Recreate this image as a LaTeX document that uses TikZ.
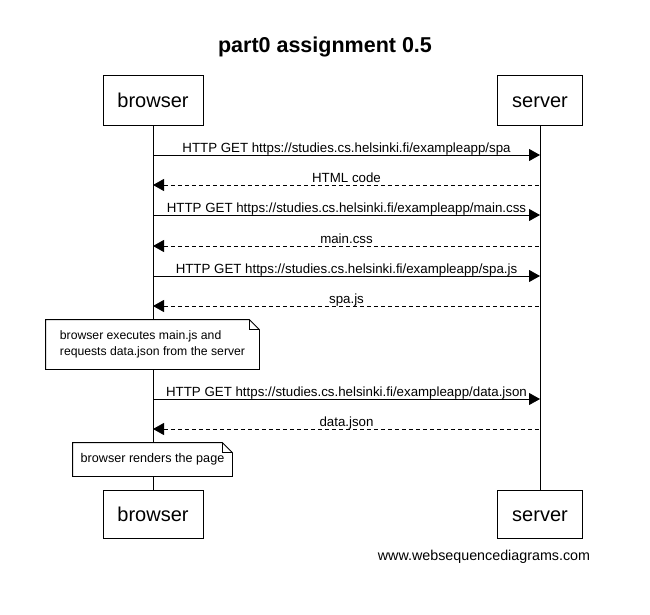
\documentclass[tikz,border=0pt]{standalone}
\usepackage{fontspec}
\setmainfont{Liberation Sans}
\usetikzlibrary{arrows.meta, positioning}

\tikzset{
  actor/.style={draw, fill=white, minimum height=50pt, inner sep=0pt, text height=16pt, text depth=2pt,
    font=\fontsize{20}{24}\selectfont},
  msg/.style={anchor=base, yshift=3pt, inner sep=0pt, font=\fontsize{13.3}{15}\selectfont},
  call/.style={-{Triangle[length=11pt,width=12pt]}},
  reply/.style={{Triangle[length=11pt,width=12pt]}-, dash pattern=on 4pt off 3pt},
  notebox/.style={fill=white, inner sep=0pt, align=left}
}

\begin{document}
\begin{tikzpicture}[x=1pt, y=-1pt, line width=0.8pt]
    % Page
    \fill[white] (0,0) rectangle (650,615);
    \useasboundingbox (0,0) rectangle (650,615);

    % Title
    \node[font=\bfseries\fontsize{21.5}{25}\selectfont] (title) at (325,47) {part0 assignment 0.5};

    % Participants
    \node[actor, minimum width=100pt] (browser) at (153,100) {browser};
    \node[actor, minimum width=85pt] (server) at (540,100) {server};
    \node[actor, minimum width=100pt, minimum height=48pt] (browserEnd) at (153,514) {browser};
    \node[actor, minimum width=85pt, minimum height=48pt] (serverEnd) at (540,514) {server};

    % Lifelines
    \draw (browser.south) -- (browserEnd.north);
    \draw (server.south) -- (serverEnd.north);

    % Message ends on the lifelines
    \foreach \n/\y in {1/155, 2/185, 3/215, 4/246, 5/276, 6/306, 7/399, 8/429} {
        \coordinate (b\n) at (153,\y);
        \coordinate (s\n) at (540,\y);
    }

    % Messages
    \draw[call] (b1) -- node[msg] {HTTP GET https://studies.cs.helsinki.fi/exampleapp/spa} (s1);
    \draw[reply] (b2) -- node[msg] {HTML code} (s2);
    \draw[call] (b3) -- node[msg] {HTTP GET https://studies.cs.helsinki.fi/exampleapp/main.css} (s3);
    \draw[reply] (b4) -- node[msg] {main.css} (s4);
    \draw[call] (b5) -- node[msg] {HTTP GET https://studies.cs.helsinki.fi/exampleapp/spa.js} (s5);
    \draw[reply] (b6) -- node[msg] {spa.js} (s6);
    \draw[call] (b7) -- node[msg] {HTTP GET https://studies.cs.helsinki.fi/exampleapp/data.json} (s7);
    \draw[reply] (b8) -- node[msg] {data.json} (s8);

    % Notes
    \node[notebox, minimum width=213pt, minimum height=49pt, font=\fontsize{12.2}{16}\selectfont] (execNote)
        at (152.5,344.5) {browser executes main.js and\\requests data.json from the server};
    \node[notebox, minimum width=159pt, minimum height=33pt, font=\fontsize{12.6}{16}\selectfont] (renderNote)
        at (152.5,459.5) {browser renders the page};
    \foreach \nt in {execNote, renderNote} {
        \draw (\nt.north west) -- ([xshift=-10pt]\nt.north east) -- ([yshift=-10pt]\nt.north east)
            -- (\nt.south east) -- (\nt.south west) -- cycle;
        \draw[line width=0.5pt] ([xshift=-10pt]\nt.north east) -- ([xshift=-10pt,yshift=-10pt]\nt.north east)
            -- ([yshift=-10pt]\nt.north east);
    }

    % Footer
    \node[font=\fontsize{14.3}{17}\selectfont] (footer) at (484,557) {www.websequencediagrams.com};
\end{tikzpicture}
\end{document}
